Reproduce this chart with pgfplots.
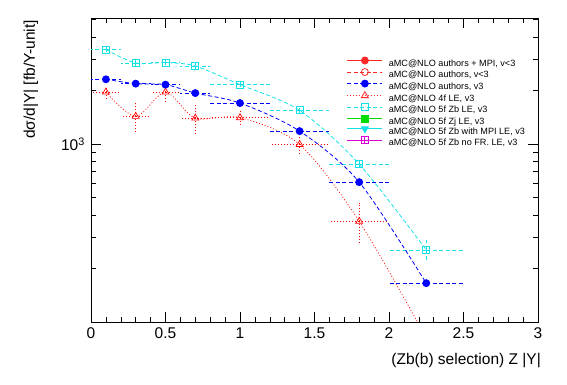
\documentclass[border=0pt]{standalone}
\usepackage{fontspec}
\setmainfont{Liberation Sans}
\usepackage{pgfplots}
\pgfplotsset{compat=1.18}
\usetikzlibrary{plotmarks}
\pgfdeclareplotmark{boxplus}{%
  \pgfpathrectangle{\pgfqpoint{-\pgfplotmarksize}{-\pgfplotmarksize}}{\pgfqpoint{2\pgfplotmarksize}{2\pgfplotmarksize}}%
  \pgfpathmoveto{\pgfqpoint{-\pgfplotmarksize}{0pt}}\pgfpathlineto{\pgfqpoint{\pgfplotmarksize}{0pt}}%
  \pgfpathmoveto{\pgfqpoint{0pt}{-\pgfplotmarksize}}\pgfpathlineto{\pgfqpoint{0pt}{\pgfplotmarksize}}%
  \pgfusepathqstroke}
\definecolor{rootred}{RGB}{255,0,0}
\definecolor{rootblue}{RGB}{0,0,255}
\definecolor{rootcyan}{RGB}{20,225,230}
\definecolor{rootgreen}{RGB}{0,220,0}
\definecolor{rootmag}{RGB}{215,0,215}
\tikzset{rdash/.style={dash pattern=on 4pt off 2.5pt}, rdot/.style={dash pattern=on 1pt off 2pt}}
\pgfplotstableread{
x y ex
0.1 2310 0.1
0.3 2184 0.1
0.5 2157 0.1
0.7 1934 0.1
1.0 1700 0.2
1.4 1183 0.2
1.8 612 0.2
2.25 166 0.25
}\blue
\pgfplotstableread{
x y ex ey
0.1 3390 0.1 120
0.3 2852 0.1 100
0.5 2866 0.1 100
0.7 2742 0.1 95
1.0 2157 0.2 75
1.4 1546 0.2 55
1.8 772 0.2 30
2.25 255 0.25 35
}\cyan
\pgfplotstableread{
x y ex eyp eym
0.1 1959 0.1 150 150
0.3 1431 0.1 290 290
0.5 1959 0.1 200 230
0.7 1400 0.1 250 250
1.0 1407 0.2 125 140
1.4 996 0.2 100 110
1.8 369 0.2 100 95
}\red
\pgfplotstableread{
x y
0.1 1959
0.3 1431
0.5 1959
0.7 1400
1.0 1407
1.4 996
1.8 369
2.25 82
}\redline
\begin{document}
\begin{tikzpicture}
\path[use as bounding box] (0pt,0pt) rectangle (567pt,384pt);
\begin{axis}[
  at={(91pt,62pt)}, anchor=south west, scale only axis,
  width=447pt, height=304pt,
  xmin=0, xmax=3, ymode=log, ymin=100.5, ymax=5100,
  xtick={0,0.5,1,1.5,2,2.5,3}, xticklabels={0,0.5,1,1.5,2,2.5,3},
  minor x tick num=4,
  ytick={1000}, yticklabels={10\textsuperscript{3}},
  minor ytick={200,300,400,500,600,700,800,900,2000,3000,4000,5000},
  tick align=inside, major tick length=10pt, minor tick length=5pt,
  tick style={black, line width=0.6pt},
  axis line style={line width=0.8pt},
  ticklabel style={font=\fontsize{15.5}{15.5}\selectfont},
  xticklabel style={anchor=base, inner sep=0pt, yshift=-16pt},
  yticklabel style={anchor=east, inner sep=0pt, xshift=-6pt},
  legend style={draw=none, fill=none, at={(0.5727,0.8717)}, anchor=north west,
    inner sep=0pt, outer sep=0pt, row sep=0pt, column sep=6pt,
    font=\fontsize{9.1}{9.1}\selectfont,
    nodes={inner sep=0pt, text height=7pt, text depth=2.5pt}},
  legend cell align=left,
  legend image code/.code={\draw[mark repeat=2,mark phase=2,#1] plot coordinates {(0pt,3.3pt) (17.5pt,3.3pt) (35pt,3.3pt)};},
]
\addlegendimage{rootred!85, line width=0.8pt, solid, mark=*, mark size=3.5pt}
\addlegendentry{aMC@NLO authors + MPI, v<3}
\addlegendimage{rootred!85, line width=0.8pt, rdash, mark=o, mark size=3.5pt, mark options={solid}}
\addlegendentry{aMC@NLO authors, v<3}
\addlegendimage{rootblue, line width=0.8pt, rdash, mark=*, mark size=3.5pt, mark options={solid}}
\addlegendentry{aMC@NLO authors, v3}
\addlegendimage{rootred!85, line width=0.8pt, rdot, mark=triangle, mark size=4pt, mark options={solid}}
\addlegendentry{aMC@NLO 4f LE, v3}
\addlegendimage{rootcyan, line width=0.8pt, rdash, mark=square, mark size=3.5pt, mark options={solid}}
\addlegendentry{aMC@NLO 5f Zb LE, v3}
\addlegendimage{rootgreen, line width=0.8pt, solid, mark=square*, mark size=3.5pt}
\addlegendentry{aMC@NLO 5f Zj LE, v3}
\addlegendimage{rootcyan, line width=0.8pt, solid, mark=triangle*, mark size=4pt, mark options={rotate=180}}
\addlegendentry{aMC@NLO 5f Zb with MPI LE, v3}
\addlegendimage{rootmag, line width=0.8pt, solid, mark=boxplus, mark size=3.5pt}
\addlegendentry{aMC@NLO 5f Zb no FR. LE, v3}

% red 4f LE
\addplot[forget plot, rootred, line width=0.7pt, rdot, smooth] table[x=x,y=y] {\redline};
\addplot[forget plot, rootred, line width=0.7pt, only marks, mark=triangle, mark size=4pt,
  mark options={solid, fill=white},
  error bars/.cd, x dir=both, x explicit, y dir=both, y explicit, error mark=none,
  error bar style={rootred, rdot, line width=0.7pt}]
  table[x=x, y=y, x error=ex, y error plus=eyp, y error minus=eym] {\red};
% cyan 5f Zb LE
\addplot[forget plot, rootcyan, line width=0.8pt, rdash, smooth, mark=square, mark size=3.5pt,
  mark options={solid, fill=white},
  error bars/.cd, x dir=both, x explicit, y dir=both, y explicit, error mark=none,
  error bar style={rootcyan, rdash, line width=0.8pt}]
  table[x=x, y=y, x error=ex, y error=ey] {\cyan};
% blue authors v3
\addplot[forget plot, rootblue, line width=0.8pt, rdash, smooth, mark=*, mark size=3.5pt,
  mark options={solid},
  error bars/.cd, x dir=both, x explicit, error mark=none,
  error bar style={rootblue, rdash, line width=0.8pt}]
  table[x=x, y=y, x error=ex] {\blue};
\end{axis}
\node[rotate=90, anchor=base east, inner sep=0pt, font=\fontsize{15.5}{15.5}\selectfont] at (35pt,364pt) {dσ/d|Y| [fb/Y-unit]};
\node[anchor=base east, inner sep=0pt, font=\fontsize{15.5}{15.5}\selectfont] at (541pt,20pt) {(Zb(b) selection) Z |Y|};
\end{tikzpicture}
\end{document}
